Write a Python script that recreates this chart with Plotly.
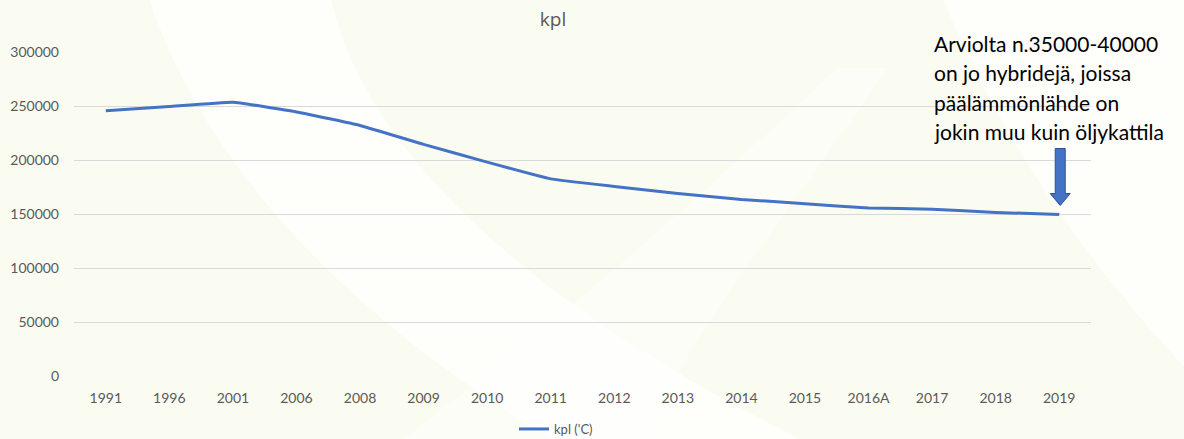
import plotly.graph_objects as go

years = ["1991", "1996", "2001", "2006", "2008", "2009", "2010", "2011",
         "2012", "2013", "2014", "2015", "2016A", "2017", "2018", "2019"]
kpl = [245500, 249500, 253500, 244500, 232000, 214500, 198000, 182500,
       175500, 169000, 163500, 159500, 155500, 154500, 151500, 149500]
y_ticks = [0, 50000, 100000, 150000, 200000, 250000, 300000]
series_name = "kpl ('C)"
chart_title = "kpl"
note_lines = ["Arviolta n.35000-40000", "on jo hybridejä, joissa",
              "päälämmönlähde on", "jokin muu kuin öljykattila"]

FONT = "Lato"
GRAY = "#595959"
BLUE = "#4472C4"

fig = go.Figure()
fig.add_trace(go.Scatter(
    x=years, y=kpl, mode="lines", name=series_name,
    line=dict(color=BLUE, width=3, shape="spline", smoothing=0.3),
))

# faint decorative background swooshes (white bands over a pale cream page)
fig.add_shape(type="path", xref="paper", yref="paper", layer="below",
              path="M 0.07 1.2 C 0.12 0.7, 0.25 0.2, 0.5 -0.25 L 0.75 -0.25 C 0.45 0.2, 0.28 0.7, 0.25 1.2 Z",
              fillcolor="rgba(255,255,255,0.7)", line=dict(width=0))
fig.add_shape(type="path", xref="paper", yref="paper", layer="below",
              path="M 0.85 1.2 C 0.9 0.8, 0.98 0.4, 1.1 0.0 L 1.12 1.2 Z",
              fillcolor="rgba(255,255,255,0.7)", line=dict(width=0))
fig.add_shape(type="path", xref="paper", yref="paper", layer="below",
              path="M 0.3 -0.25 C 0.45 0.1, 0.6 0.5, 0.75 0.95 L 0.8 0.95 C 0.7 0.5, 0.6 0.1, 0.55 -0.25 Z",
              fillcolor="rgba(255,255,255,0.4)", line=dict(width=0))

# block arrow pointing to the last point
fig.add_shape(type="path", xref="x", yref="y", xsizemode="pixel", ysizemode="pixel",
              xanchor=len(years) - 1, yanchor=kpl[-1],
              path="M -4 66 L 6 66 L 6 21 L 11 21 L 1 9 L -9 21 L -4 21 Z",
              fillcolor=BLUE, line=dict(color="#2F528F", width=1))

# note text, one annotation per line (to match the line spacing)
for i, line in enumerate(note_lines):
    py = 44 + 29 * i
    fig.add_annotation(
        xref="paper", yref="paper", x=(932 - 74) / 1017, y=1 + (52 - py) / 324,
        xanchor="left", yanchor="middle", align="left", showarrow=False,
        text=line, font=dict(family=FONT, size=21, color="#000000"),
    )

fig.update_layout(
    width=1184, height=439,
    margin=dict(l=74, r=93, t=52, b=63, autoexpand=False),
    paper_bgcolor="#fbfcf1",
    plot_bgcolor="rgba(0,0,0,0)",
    font=dict(family=FONT, size=14, color=GRAY),
    title=dict(text=chart_title, x=553 / 1184, xanchor="center", xref="container",
               y=1 - 19 / 439, yanchor="middle", yref="container",
               font=dict(family="Open Sans", size=19, color=GRAY, weight="normal")),
    showlegend=True,
    legend=dict(orientation="h", x=556 / 1184, xanchor="center", xref="container",
                y=1 - 429 / 439, yanchor="middle", yref="container",
                font=dict(family=FONT, size=13, color=GRAY),
                bgcolor="rgba(0,0,0,0)"),
    xaxis=dict(type="category", categoryorder="array", categoryarray=years,
               range=[-0.5, len(years) - 0.5],
               showgrid=False, zeroline=False, showline=False, ticks="",
               ticklabelstandoff=12, tickfont=dict(size=14, color=GRAY)),
    yaxis=dict(range=[0, 300000], tickvals=y_ticks, ticktext=[str(v) for v in y_ticks],
               showgrid=True, gridcolor="#d9d9d9", gridwidth=1,
               zeroline=False, showline=False, ticks="",
               ticklabelstandoff=14, tickfont=dict(size=14, color=GRAY)),
)

fig.write_html("out.html", config={"displayModeBar": False},
               post_script="document.body.style.margin='0';document.body.style.overflow='hidden';")
